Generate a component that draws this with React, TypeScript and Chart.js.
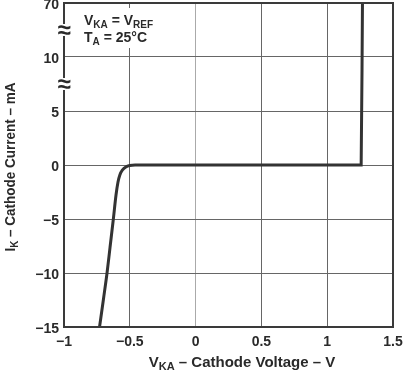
import React, { useEffect, useRef } from "react";
import { Chart, registerables } from "chart.js";

Chart.register(...registerables);

// Data (cathode voltage in V, cathode current in mA)
const voltage = [-0.73, -0.70, -0.673, -0.65, -0.625, -0.605, -0.59, -0.575, -0.555, -0.53, -0.50, -0.46, 1.258, 1.268];
const current = [-15, -12.4, -10, -7.6, -5, -2.8, -1.6, -0.9, -0.45, -0.18, -0.05, 0, 0, 70];

const xTickValues = [-1, -0.5, 0, 0.5, 1, 1.5];
const xTickLabels = ["\u22121", "\u22120.5", "0", "0.5", "1", "1.5"];
const yTickValues = [-15, -10, -5, 0, 5, 10, 15];
const yTickLabels = ["\u221215", "\u221210", "\u22125", "0", "5", "10", "70"];

// broken axis: -15..5 linear, 5..10 one step, 10..70 one step
function axisPos(v: number): number {
  if (v <= 10) return v;
  return 10 + ((v - 10) / 60) * 5;
}

const FONT = "'Liberation Sans', Arial, sans-serif";

type Seg = { t: string; sub?: boolean };

function richWidth(ctx: CanvasRenderingContext2D, segs: Seg[], size: number) {
  let w = 0;
  for (const s of segs) {
    ctx.font = s.sub ? `bold ${size - 4}px ${FONT}` : `bold ${size}px ${FONT}`;
    w += ctx.measureText(s.t).width;
  }
  return w;
}

function drawRich(ctx: CanvasRenderingContext2D, segs: Seg[], x: number, y: number, size: number) {
  ctx.textBaseline = "alphabetic";
  ctx.textAlign = "left";
  let cx = x;
  for (const s of segs) {
    ctx.font = s.sub ? `bold ${size - 4}px ${FONT}` : `bold ${size}px ${FONT}`;
    ctx.fillText(s.t, cx, s.sub ? y + 3 : y);
    cx += ctx.measureText(s.t).width;
  }
}

const decorPlugin = {
  id: "decor",
  afterDraw(chart: any) {
    const ctx: CanvasRenderingContext2D = chart.ctx;
    const a = chart.chartArea;
    const ys = chart.scales.y;
    ctx.save();
    // annotation box
    ctx.fillStyle = "#ffffff";
    ctx.fillRect(73, 8, 97, 40);

    // frame
    ctx.strokeStyle = "#3a3a3a";
    ctx.lineWidth = 2;
    ctx.strokeRect(a.left, a.top, a.right - a.left, a.bottom - a.top);

    ctx.fillStyle = "#2a2a2a";
    drawRich(ctx, [{ t: "V" }, { t: "KA", sub: true }, { t: " = V" }, { t: "REF", sub: true }], 84, 25, 14);
    drawRich(ctx, [{ t: "T" }, { t: "A", sub: true }, { t: " = 25\u00B0C" }], 84, 42, 14);

    // axis breaks
    const breaks = [(ys.getPixelForValue(10) + ys.getPixelForValue(15)) / 2, (ys.getPixelForValue(5) + ys.getPixelForValue(10)) / 2];
    for (const by of breaks) {
      ctx.fillStyle = "#ffffff";
      ctx.fillRect(a.left - 5, by - 6, 10, 12);
      ctx.fillStyle = "#2a2a2a";
      ctx.font = `bold 24px ${FONT}`;
      ctx.textAlign = "center";
      ctx.textBaseline = "middle";
      ctx.fillText("\u2248", a.left, by + 1);
    }

    // x title
    ctx.fillStyle = "#2a2a2a";
    const xs: Seg[] = [{ t: "V" }, { t: "KA", sub: true }, { t: " \u2013 Cathode Voltage \u2013 V" }];
    const xw = richWidth(ctx, xs, 15);
    drawRich(ctx, xs, 242 - xw / 2, 367, 15);

    // y title (slightly condensed along its length)
    const ysg: Seg[] = [{ t: "I" }, { t: "K", sub: true }, { t: " \u2013 Cathode Current \u2013 mA" }];
    const yw = richWidth(ctx, ysg, 15);
    ctx.translate(15, 167);
    ctx.rotate(-Math.PI / 2);
    ctx.scale(0.9, 1);
    drawRich(ctx, ysg, -yw / 2, 0, 15);
    ctx.restore();
  },
};

export default function App() {
  const ref = useRef<HTMLCanvasElement>(null);
  useEffect(() => {
    if (!ref.current) return;
    const pts = voltage.map((v, i) => ({ x: v, y: axisPos(current[i]) }));
    const chart = new Chart(ref.current, {
      type: "line",
      data: {
        datasets: [
          {
            data: pts,
            borderColor: "#333333",
            borderWidth: 3,
            pointRadius: 0,
            cubicInterpolationMode: "monotone",
            fill: false,
          },
        ],
      },
      options: {
        animation: false,
        responsive: false,
        devicePixelRatio: 1,
        layout: { padding: { left: 0, top: 3, right: 10, bottom: 0 } },
        plugins: { legend: { display: false }, tooltip: { enabled: false } },
        scales: {
          x: {
            type: "linear",
            min: -1,
            max: 1.5,
            afterFit: (s: any) => { s.height = 45; s.paddingLeft = 0; s.paddingRight = 0; },
            afterBuildTicks: (s: any) => { s.ticks = xTickValues.map((v) => ({ value: v })); },
            border: { display: false },
            grid: {
              color: (c: any) => (c.tick && c.tick.value === 0 ? "#aaaaaa" : "#666666"),
              lineWidth: 1,
              drawTicks: false,
            },
            ticks: {
              padding: 7,
              color: "#2a2a2a",
              font: { family: FONT, size: 14, weight: "bold" },
              callback: (v: any) => {
                const i = xTickValues.indexOf(Number(v));
                return i >= 0 ? xTickLabels[i] : "";
              },
            },
          },
          y: {
            type: "linear",
            min: -15,
            max: 15,
            afterFit: (s: any) => { s.width = 64; s.paddingTop = 0; s.paddingBottom = 0; },
            afterBuildTicks: (s: any) => { s.ticks = yTickValues.map((v) => ({ value: v })); },
            border: { display: false },
            grid: {
              color: "#666666",
              lineWidth: 1,
              drawTicks: false,
            },
            ticks: {
              padding: 5,
              labelOffset: 2,
              color: "#2a2a2a",
              font: { family: FONT, size: 14, weight: "bold" },
              callback: (v: any) => {
                const i = yTickValues.indexOf(Number(v));
                return i >= 0 ? yTickLabels[i] : "";
              },
            },
          },
        },
      },
      plugins: [decorPlugin],
    } as any);
    return () => chart.destroy();
  }, []);
  return (
    <div style={{ position: "absolute", left: 0, top: 0, width: 403, height: 372, background: "#fff" }}>
      <canvas ref={ref} width={403} height={372} style={{ display: "block" }} />
    </div>
  );
}
